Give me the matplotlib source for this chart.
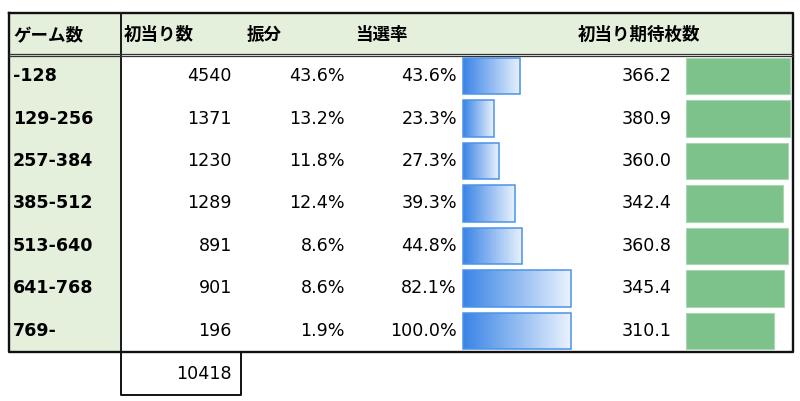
import matplotlib.pyplot as plt
import numpy as np
from matplotlib.colors import LinearSegmentedColormap

# table data
games = ["-128", "129-256", "257-384", "385-512", "513-640", "641-768", "769-"]
hits = [4540, 1371, 1230, 1289, 891, 901, 196]
share = [43.6, 13.2, 11.8, 12.4, 8.6, 8.6, 1.9]
rate = [43.6, 23.3, 27.3, 39.3, 44.8, 82.1, 100.0]
expect = [366.2, 380.9, 360.0, 342.4, 360.8, 345.4, 310.1]
total = 10418
headers = ["ゲーム数", "初当り数", "振分", "当選率", "初当り期待枚数"]

# data bar scale maxima (bars longer than this are capped, as in the sheet)
rate_max = 82.0
expect_max = 367.0

W, H = 800, 401
fig = plt.figure(figsize=(W / 100, H / 100), dpi=100)
ax = fig.add_axes([0, 0, 1, 1])
ax.set_xlim(0, W)
ax.set_ylim(H, 0)
ax.axis("off")

jp = ["Noto Sans CJK JP", "DejaVu Sans"]
num = ["DejaVu Sans", "Noto Sans CJK JP"]
fs = 12.6
green_bg = "#e4efdc"

left, right, top, head_bot, bottom = 9, 793, 12.5, 55, 352
n = len(games)
row_h = (bottom - head_bot) / n

# backgrounds
ax.add_patch(plt.Rectangle((left, top), right - left, head_bot - top, fc=green_bg, ec="none"))
ax.add_patch(plt.Rectangle((left, head_bot), 121 - left, bottom - head_bot, fc=green_bg, ec="none"))

# grid lines
ax.plot([left, right, right, left, left], [top, top, bottom, bottom, top], color="#111111", lw=1.7)
ax.plot([121, 121], [top, bottom], color="#1a1a1a", lw=1.4)
ax.plot([left, right], [53.5, 53.5], color="#333333", lw=0.9)
ax.plot([left, right], [56.3, 56.3], color="#333333", lw=0.9)
ax.plot([121, 121, 241, 241], [bottom, 395, 395, bottom], color="#111111", lw=1.4)

# header texts
hx = [13, 124, 247, 355, 578]
for x, h in zip(hx, headers):
    ax.text(x, 35, h, ha="left", va="center", fontsize=fs, fontweight="bold", family=jp)

# body texts
for i in range(n):
    y = head_bot + row_h * (i + 0.5)
    ax.text(13, y, games[i], ha="left", va="center", fontsize=fs, fontweight="bold", family=num)
    ax.text(232, y, f"{hits[i]}", ha="right", va="center", fontsize=fs, family=num)
    ax.text(345, y, f"{share[i]:.1f}%", ha="right", va="center", fontsize=fs, family=num)
    ax.text(457, y, f"{rate[i]:.1f}%", ha="right", va="center", fontsize=fs, family=num)
    ax.text(672, y, f"{expect[i]:.1f}", ha="right", va="center", fontsize=fs, family=num)
ax.text(232, 374, f"{total}", ha="right", va="center", fontsize=fs, family=num)

# data bar axes
def bar_axes(x0, width_px):
    b = fig.add_axes([x0 / W, 1 - bottom / H, width_px / W, (bottom - head_bot) / H])
    b.set_ylim(n - 0.5, -0.5)
    b.axis("off")
    return b

ypos = np.arange(n)
bh = 0.86

bax = bar_axes(463, 108)
bax.set_xlim(0, rate_max)
bars = bax.barh(ypos, np.minimum(rate, rate_max), height=bh, color="none",
                edgecolor="#4a93ea", lw=1.1, clip_on=False)
grad = np.linspace(0, 1, 256).reshape(1, -1)
cmap = LinearSegmentedColormap.from_list("blue", ["#3a84e6", "#eaf2fd"])
for r in bars:
    im = bax.imshow(grad, cmap=cmap, aspect="auto", interpolation="bilinear",
                    extent=(r.get_x(), r.get_x() + r.get_width(), r.get_y() + r.get_height(), r.get_y()),
                    zorder=1)
    im.set_clip_path(r)
    r.set_zorder(2)
bax.set_xlim(0, rate_max)
bax.set_ylim(n - 0.5, -0.5)

gax = bar_axes(686, 104)
gax.set_xlim(0, expect_max)
gax.barh(ypos, np.minimum(expect, expect_max), height=bh, color="#7cc28a",
         edgecolor="#a8d8b2", lw=0.8, clip_on=False)

fig.savefig("out.png", dpi=100)
